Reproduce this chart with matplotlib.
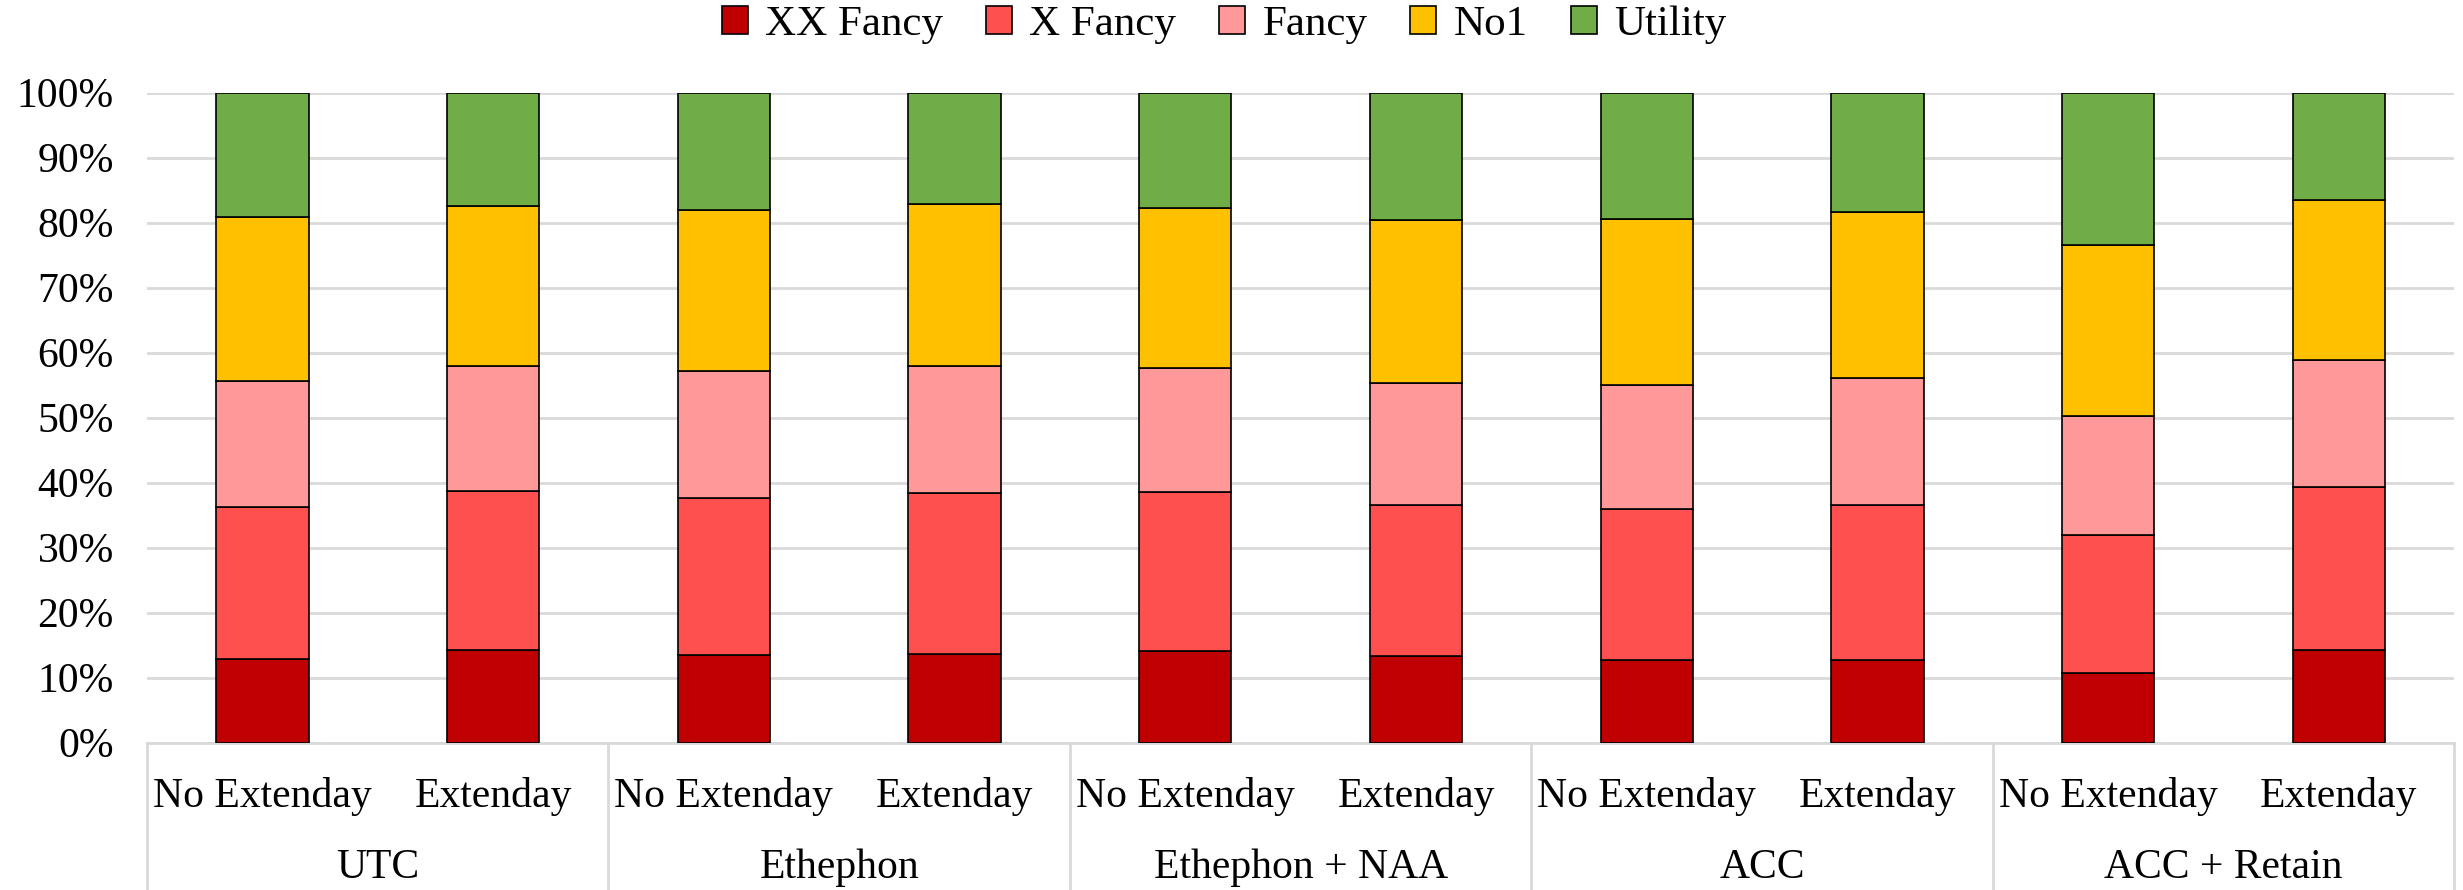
import numpy as np
import matplotlib.pyplot as plt
import matplotlib.transforms as mtransforms

plt.rcParams['font.family'] = ['Liberation Serif', 'DejaVu Serif']

# categories
groups = ["UTC", "Ethephon", "Ethephon + NAA", "ACC", "ACC + Retain"]
subs = ["No Extenday", "Extenday"]

# grade shares (%), one value per bar (group x sub)
xx_fancy = [12.8, 14.3, 13.5, 13.7, 14.1, 13.3, 12.7, 12.7, 10.7, 14.3]
x_fancy  = [23.5, 24.4, 24.2, 24.7, 24.4, 23.2, 23.2, 23.8, 21.2, 25.0]
fancy    = [19.3, 19.3, 19.4, 19.6, 19.2, 18.8, 19.1, 19.6, 18.4, 19.6]
no1      = [25.3, 24.5, 24.9, 24.8, 24.5, 25.1, 25.5, 25.5, 26.3, 24.5]
utility  = [19.1, 17.5, 18.0, 17.2, 17.8, 19.6, 19.5, 18.4, 23.4, 16.6]

series = [("XX Fancy", xx_fancy, "#C00000"),
          ("X Fancy", x_fancy, "#FF5050"),
          ("Fancy", fancy, "#FF9999"),
          ("No1", no1, "#FFC000"),
          ("Utility", utility, "#70AD47")]

fig = plt.figure(figsize=(24.63, 8.9), dpi=100)
ax = fig.add_axes([0.0597, 0.1656, 0.9367, 0.7304])

n = len(xx_fancy)
x = np.arange(n)
bottom = np.zeros(n)
for name, vals, col in series:
    v = np.array(vals)
    ax.bar(x, v, 0.4, bottom=bottom, color=col, edgecolor="black",
           linewidth=1.2, label=name, zorder=3)
    bottom += v

ax.set_xlim(-0.5, n - 0.5)
ax.set_ylim(0, 100)
ax.set_yticks(np.arange(0, 101, 10))
ax.set_yticklabels([f"{t}%" for t in range(0, 101, 10)], fontsize=30)
ax.tick_params(axis="y", length=0, pad=24)
ax.set_xticks([])
ax.grid(axis="y", color="#d9d9d9", linewidth=2, zorder=0)
for s in ["top", "right", "left"]:
    ax.spines[s].set_visible(False)
ax.spines["bottom"].set_color("#d9d9d9")
ax.spines["bottom"].set_linewidth(2)

# two-level category axis
trans = mtransforms.blended_transform_factory(ax.transData, ax.transAxes)
for i in range(n):
    ax.text(x[i], -0.083, subs[i % 2], transform=trans, ha="center",
            va="center", fontsize=30)
for g, name in enumerate(groups):
    ax.text(2 * g + 0.5, -0.192, name, transform=trans, ha="center",
            va="center", fontsize=30)
for b in np.arange(-0.5, n, 2):
    ax.plot([b, b], [0, -0.227], transform=trans, color="#d9d9d9",
            linewidth=2, clip_on=False)

fig.legend(loc="center", bbox_to_anchor=(0.497, 0.972), ncol=5,
           frameon=False, fontsize=31, handlelength=0.6, handleheight=0.6,
           handletextpad=0.4, columnspacing=1.0, borderaxespad=0)

fig.savefig("out.png", dpi=100)
